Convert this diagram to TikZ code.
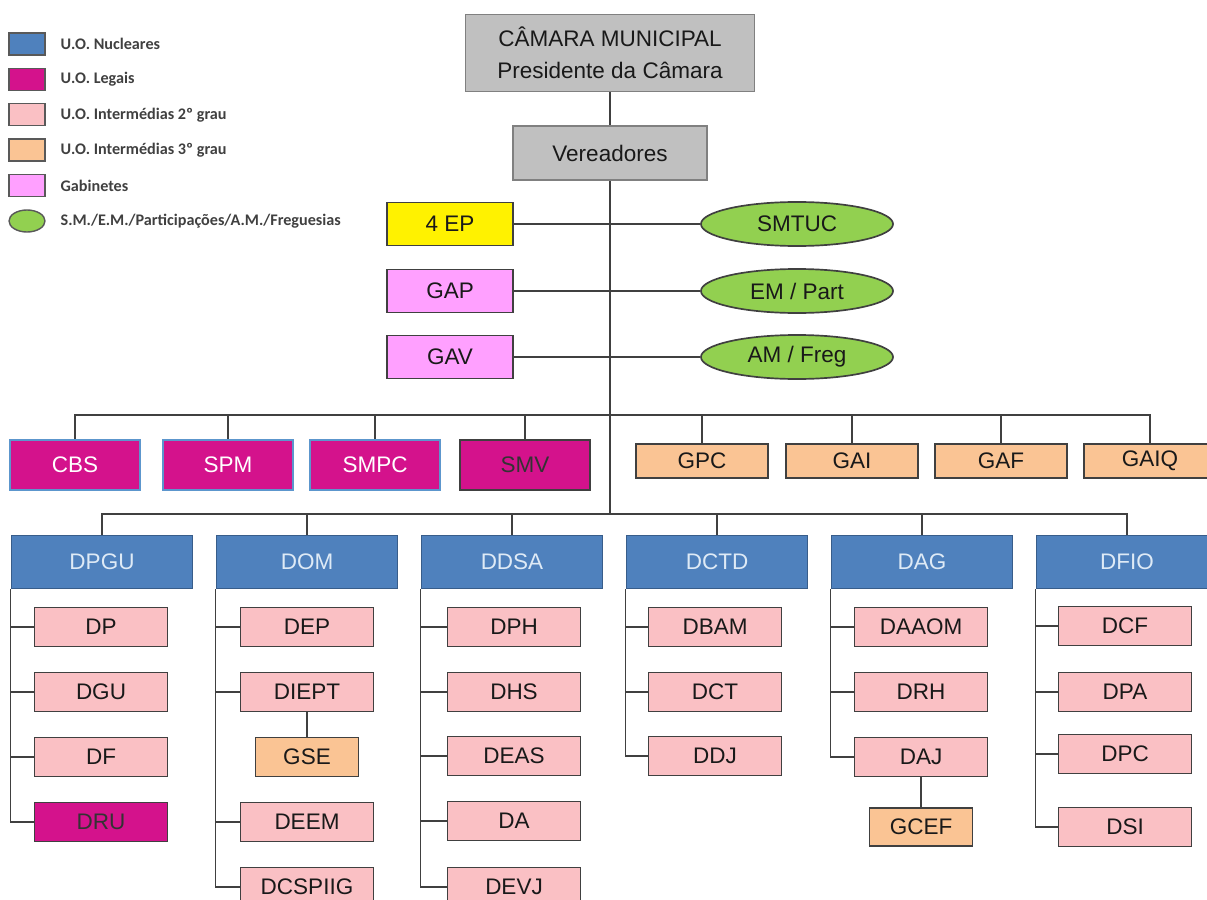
\documentclass[tikz,border=0pt]{standalone}
\usepackage{fontspec}
\setmainfont{Liberation Sans}
\newfontfamily\legfont{Carlito}
\usetikzlibrary{shapes.geometric}

\definecolor{nucblue}{RGB}{79,129,189}
\definecolor{nucedge}{RGB}{56,93,138}
\definecolor{nuctext}{RGB}{222,234,246}
\definecolor{legalmag}{RGB}{212,18,140}
\definecolor{legaledge}{RGB}{92,150,205}
\definecolor{pinkbox}{RGB}{250,192,196}
\definecolor{orangebox}{RGB}{250,196,148}
\definecolor{gabpink}{RGB}{255,160,255}
\definecolor{smgreen}{RGB}{146,208,80}
\definecolor{topgray}{RGB}{192,192,192}
\definecolor{linegray}{RGB}{64,64,64}

\begin{document}
\begin{tikzpicture}[x=0.025cm, y=-0.025cm, line width=0.9pt, draw=linegray,
	box/.style={draw=linegray, line width=1.2pt, inner sep=0pt, font=\fontsize{16}{18}\selectfont, text=black!90},
	kid/.style={box, fill=pinkbox, minimum width=3.325cm, minimum height=0.975cm},
	head/.style={box, fill=nucblue, draw=nucedge, text=nuctext, minimum width=4.525cm, minimum height=1.325cm},
	legal/.style={box, fill=legalmag, draw=legaledge, text=white, minimum width=3.25cm, minimum height=1.25cm},
	third/.style={box, fill=orangebox, minimum width=3.3cm, minimum height=0.85cm},
	gab/.style={box, fill=gabpink, minimum width=3.15cm, minimum height=1.075cm},
	sm/.style={box, ellipse, fill=smgreen, minimum width=4.8cm, minimum height=1.1cm},
	legsq/.style={draw=black!65, line width=1pt, minimum width=0.9cm, minimum height=0.55cm, inner sep=0pt},
	legtxt/.style={anchor=west, inner sep=0pt, font=\legfont\bfseries\fontsize{11.5}{13}\selectfont, text=black!75}]

	\useasboundingbox (0,0) rectangle (1207,899);

	% legend
	\foreach \c/\t [count=\i] in {nucblue/U.O. Nucleares, legalmag/U.O. Legais, pinkbox/U.O. Intermédias 2º grau, orangebox/U.O. Intermédias 3º grau, gabpink/Gabinetes} {
		\node (leg\i) at (27,{8.5+35.4*\i}) [legsq, fill=\c] {};
		\node (legt\i) at (60,{8.5+35.4*\i}) [legtxt] {\t};
	}
	\node (leg6) at (27,221) [legsq, ellipse, fill=smgreen] {};
	\node (legt6) at (60,221) [legtxt] {S.M./E.M./Participações/A.M./Freguesias};

	% top of the tree
	\node (camara) at (610,53) [box, fill=topgray, draw=gray, minimum width=7.225cm, minimum height=1.925cm, align=center, font=\fontsize{16}{22.5}\selectfont] {CÂMARA MUNICIPAL\\Presidente da Câmara};
	\node (ver) at (610,153) [box, fill=topgray, draw=gray, minimum width=4.85cm, minimum height=1.35cm] {Vereadores};
	\draw (camara) -- (ver);

	\node (ep4) at (450,224) [box, fill=yellow, minimum width=3.15cm, minimum height=1.075cm] {4 EP};
	\node (gap) at (450,291) [gab] {GAP};
	\node (gav) at (450,357) [gab] {GAV};
	\node (smtuc) at (797,224) [sm] {SMTUC};
	\node (empart) at (797,291) [sm] {EM / Part};
	\node (amfreg) at (797,357) [sm] {AM / Freg};
	\draw (ep4) -- (smtuc);
	\draw (gap) -- (empart);
	\draw (gav) -- (amfreg);

	\coordinate (bus2) at (610,415);
	\coordinate (bus3) at (610,514);
	\draw (ver) -- (bus3);

	% legais and 3rd degree
	\node (cbs) at (75,465) [legal] {CBS};
	\node (spm) at (228,465) [legal] {SPM};
	\node (smpc) at (375,465) [legal] {SMPC};
	\node (smv) at (525,465) [legal, draw=linegray, text=black!80] {SMV};
	\node (gpc) at (702,461) [third] {GPC};
	\node (gai) at (852,461) [third] {GAI};
	\node (gaf) at (1001,461) [third] {GAF};
	\node (gaiq) at (1150,461) [third] {GAIQ};
	\foreach \n in {cbs,spm,smpc,smv,gpc,gai,gaf,gaiq}
		\draw (bus2) -| (\n.north);

	% departments
	\foreach \n/\t [count=\i] in {dpgu/DPGU, dom/DOM, ddsa/DDSA, dctd/DCTD, dag/DAG, dfio/DFIO} {
		\node (\n) at ({102+205*(\i-1)},562) [head] {\t};
		\draw (bus3) -| (\n.north);
	}

	\foreach \n/\t/\y in {dp/DP/627, dgu/DGU/692, df/DF/757} {
		\node (\n) at (101,\y) [kid] {\t};
		\draw (dpgu.south west) |- (\n.west);
	}
	\node (dru) at (101,822) [kid, fill=legalmag, text=black!80] {DRU};
	\draw (dpgu.south west) |- (dru.west);

	\foreach \n/\t/\y in {dep/DEP/627, diept/DIEPT/692, deem/DEEM/822, dcspiig/DCSPIIG/887} {
		\node (\n) at (307,\y) [kid] {\t};
		\draw (dom.south west) |- (\n.west);
	}
	\node (gse) at (307,757) [third, minimum width=2.575cm, minimum height=0.975cm] {GSE};
	\draw (diept) -- (gse);

	\foreach \n/\t/\y in {dph/DPH/627, dhs/DHS/692, deas/DEAS/756, da/DA/821, devj/DEVJ/887} {
		\node (\n) at (514,\y) [kid] {\t};
		\draw (ddsa.south west) |- (\n.west);
	}

	\foreach \n/\t/\y in {dbam/DBAM/627, dct/DCT/692, ddj/DDJ/756} {
		\node (\n) at (715,\y) [kid] {\t};
		\draw (dctd.south west) |- (\n.west);
	}

	\foreach \n/\t/\y in {daaom/DAAOM/627, drh/DRH/692, daj/DAJ/757} {
		\node (\n) at (921,\y) [kid] {\t};
		\draw (dag.south west) |- (\n.west);
	}
	\node (gcef) at (921,827) [third, minimum width=2.575cm, minimum height=0.95cm] {GCEF};
	\draw (daj) -- (gcef);

	\foreach \n/\t/\y in {dcf/DCF/626, dpa/DPA/692, dpc/DPC/754, dsi/DSI/827} {
		\node (\n) at (1125,\y) [kid] {\t};
		\draw (dfio.south west) |- (\n.west);
	}

\end{tikzpicture}
\end{document}
